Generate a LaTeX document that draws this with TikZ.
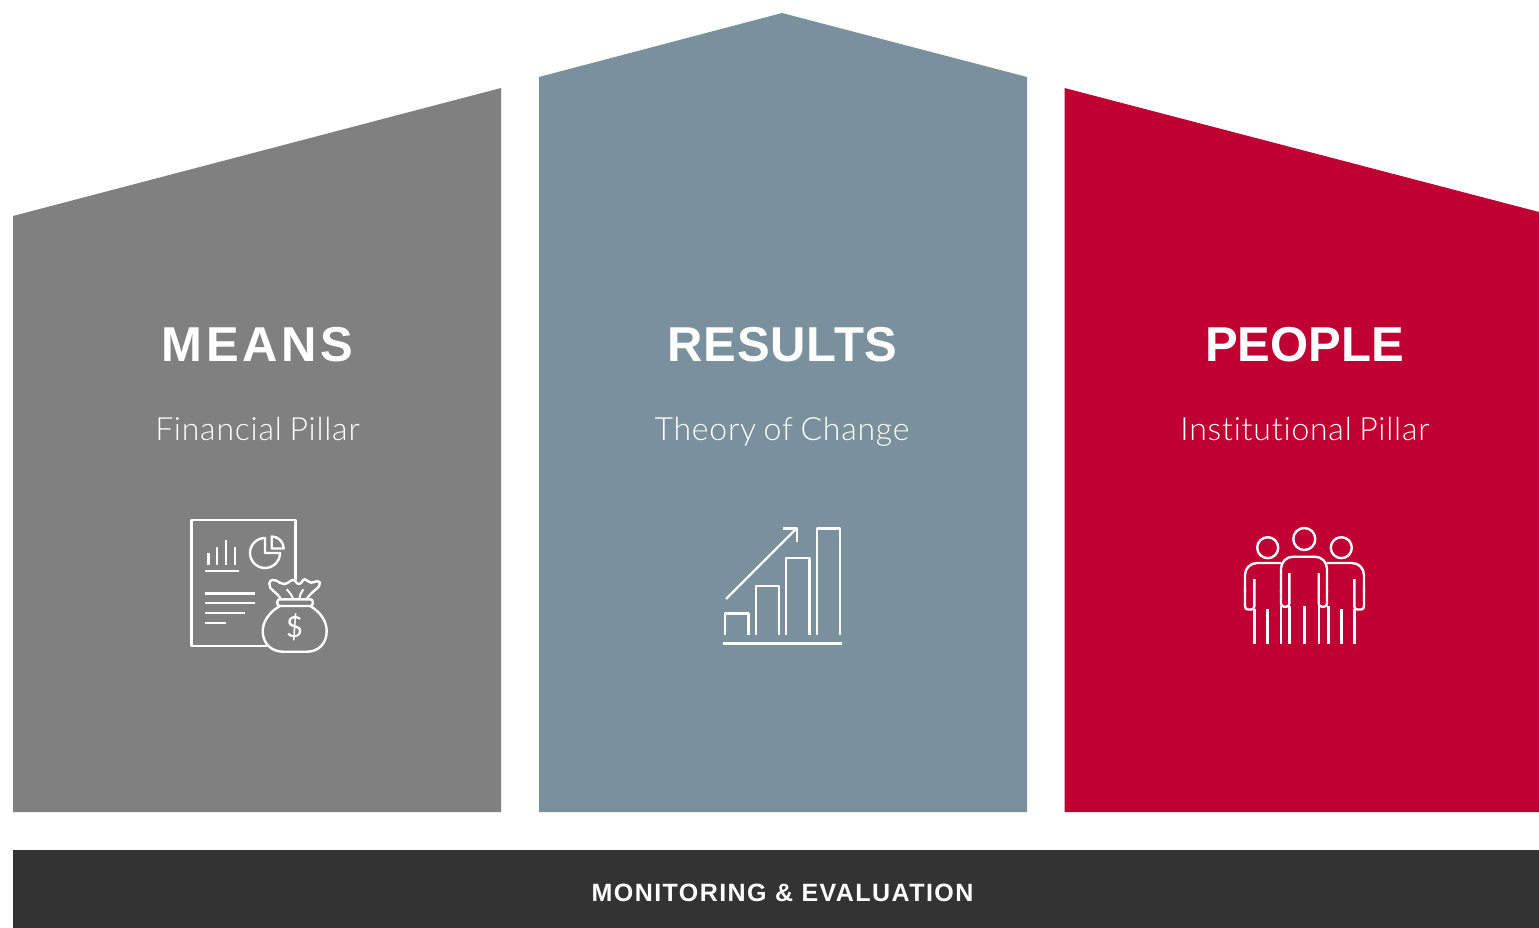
\documentclass[tikz,border=0pt]{standalone}
\usepackage{fontspec}
\setmainfont{Liberation Sans}
\newfontfamily\headfont[LetterSpace=3.0]{Liberation Sans Bold}
\newfontfamily\subfont[LetterSpace=2.4,WordSpace=0.8,Ligatures=NoCommon]{Lato Light}
\newfontfamily\barfont[LetterSpace=5.8]{Liberation Sans Bold}
\newfontfamily\dollarfont{Lato}
\definecolor{meansgrey}{HTML}{808080}
\definecolor{resultsblue}{HTML}{7A919D}
\definecolor{peoplered}{HTML}{C00032}
\definecolor{bardark}{HTML}{333333}
\tikzset{
  headlabel/.style={text=white,inner sep=0pt,anchor=base,font=\headfont\fontsize{49}{49}\selectfont},
  sublabel/.style={text=white,inner sep=0pt,anchor=base,font=\subfont\fontsize{32}{32}\selectfont},
  barlabel/.style={text=white,inner sep=0pt,anchor=base,font=\barfont\fontsize{25}{25}\selectfont},
  iconline/.style={draw=white,line width=2.4pt,line cap=butt,line join=round},
}
\begin{document}
\begin{tikzpicture}[%
x=1pt,y=-1pt,
]
\useasboundingbox (0,0) rectangle (1539,928);
%% pillars;
\fill [meansgrey] (13,216) -- (501,88) -- (501,812) -- (13,812) -- cycle;
\fill [resultsblue] (539,77) -- (782,13) -- (1027,77) -- (1027,812) -- (539,812) -- cycle;
\fill [peoplered] (1064.5,88) -- (1539,212) -- (1539,812) -- (1064.5,812) -- cycle;
\fill [bardark] (13,850) rectangle (1539,928);
%% labels;
\node [headlabel] (means) at (257.5,361) {\addfontfeature{LetterSpace=7.5}MEANS};
\node [headlabel] (results) at (782.5,361) {\addfontfeature{LetterSpace=1.8}RESULTS};
\node [headlabel] (people) at (1304.5,361) {\addfontfeature{LetterSpace=0}PEOPLE};
\node [sublabel] (financial) at (257.5,440) {Financial Pillar};
\node [sublabel] (theory) at (782,440) {Theory of Change};
\node [sublabel] (institutional) at (1305,440) {Institutional Pillar};
\node [barlabel] (monitoring) at (782.5,901) {MONITORING \& EVALUATION};
%% icon means;
\draw [iconline] (295.3,580) -- (295.3,520) -- (191.3,520) -- (191.3,645.7) -- (270,645.7);
\draw [iconline] (208.3,553) -- (208.3,565);
\draw [iconline] (217,547) -- (217,565);
\draw [iconline] (226,540) -- (226,565);
\draw [iconline] (235,547) -- (235,565);
\draw [iconline] (205,570.7) -- (239,570.7);
\draw [iconline] (265,553) -- (265,538) arc (-90:-360:15) -- cycle;
\draw [iconline] (271.7,536.5) arc (-90:0:12) -- (271.7,548.5) -- cycle;
\draw [iconline] (205,593.3) -- (254.7,593.3);
\draw [iconline] (205,603) -- (254.7,603);
\draw [iconline] (205,612.7) -- (245,612.7);
\draw [iconline] (205,622.7) -- (225.7,622.7);
\draw [iconline] (280,606) .. controls (269,612) and (262.7,622) .. (262.7,631) .. controls (262.7,644) and (272,651.7) .. (283,651.7) -- (307,651.7) .. controls (318,651.7) and (326.7,644) .. (326.7,631) .. controls (326.7,622) and (321,612) .. (310,606);
\draw [iconline,rounded corners=2.5pt] (277.3,599.3) rectangle (312.7,606);
\draw [iconline] (280.7,599.3) .. controls (278,592) and (268,590) .. (269.3,583.3) .. controls (270.5,579) and (274,579.5) .. (276,580.5) .. controls (279,582) and (281,584) .. (284,584) .. controls (288,584) and (290,580) .. (293.3,580) .. controls (296,580) and (296,584) .. (299,584) .. controls (302,584) and (302,579.3) .. (305,579.3) .. controls (307,579.3) and (308,582.7) .. (311,582.7) .. controls (314,582.7) and (318,579.5) .. (320,582.7) .. controls (321,588) and (311,591) .. (306.7,599.3);
\draw [iconline,line width=2pt] (286.7,589.3) .. controls (289,592) and (292,595) .. (293.3,599.3);
\draw [iconline,line width=2pt] (303.3,589.3) .. controls (301,592) and (300,595) .. (299.3,599.3);
\node [text=white,inner sep=0pt,font=\dollarfont\fontsize{29}{29}\selectfont] (dollar) at (294.5,627) {\$};
%% icon results;
\draw [iconline] (725,635) -- (725,613.3) -- (748.3,613.3) -- (748.3,635);
\draw [iconline] (755.7,635) -- (755.7,585.7) -- (779,585.7) -- (779,635);
\draw [iconline] (786,635) -- (786,557.7) -- (809.5,557.7) -- (809.5,635);
\draw [iconline] (816.7,635) -- (816.7,528.3) -- (840,528.3) -- (840,635);
\draw [iconline] (723,643.3) -- (841.5,643.3);
\draw [iconline] (726,599) -- (796.7,528.3);
\draw [iconline] (783,528.3) -- (796.7,528.3) -- (796.7,542);
%% icon people;
\draw [iconline] (1304.3,539) circle (11);
\draw [iconline] (1267.7,547.7) circle (10.5);
\draw [iconline] (1341.3,547.7) circle (10.5);
\draw [iconline,rounded corners=3pt] (1289.3,573) -- (1289.3,606.7) -- (1281,606.7) -- (1281,590);
\draw [iconline,rounded corners=12pt] (1281,592) -- (1281,556.7) -- (1327,556.7) -- (1327,592);
\draw [iconline,rounded corners=3pt] (1327,590) -- (1327,606.7) -- (1318.7,606.7) -- (1318.7,573);
\draw [iconline,rounded corners=12pt] (1281,563) -- (1245,563) -- (1245,592);
\draw [iconline,rounded corners=3pt] (1245,588) -- (1245,609.5) -- (1254.3,609.5) -- (1254.3,579);
\draw [iconline,rounded corners=12pt] (1327,563) -- (1364,563) -- (1364,592);
\draw [iconline,rounded corners=3pt] (1364,588) -- (1364,609.5) -- (1354.3,609.5) -- (1354.3,579);
\foreach \legx/\legy in {1254.3/609,1267.3/609,1280.7/606,1289.3/606,1304.3/606,1318.7/606,1328.3/606,1341.3/609,1354.3/609}
  \draw [iconline] (\legx,\legy) -- (\legx,643.5);
\end{tikzpicture}
\end{document}
